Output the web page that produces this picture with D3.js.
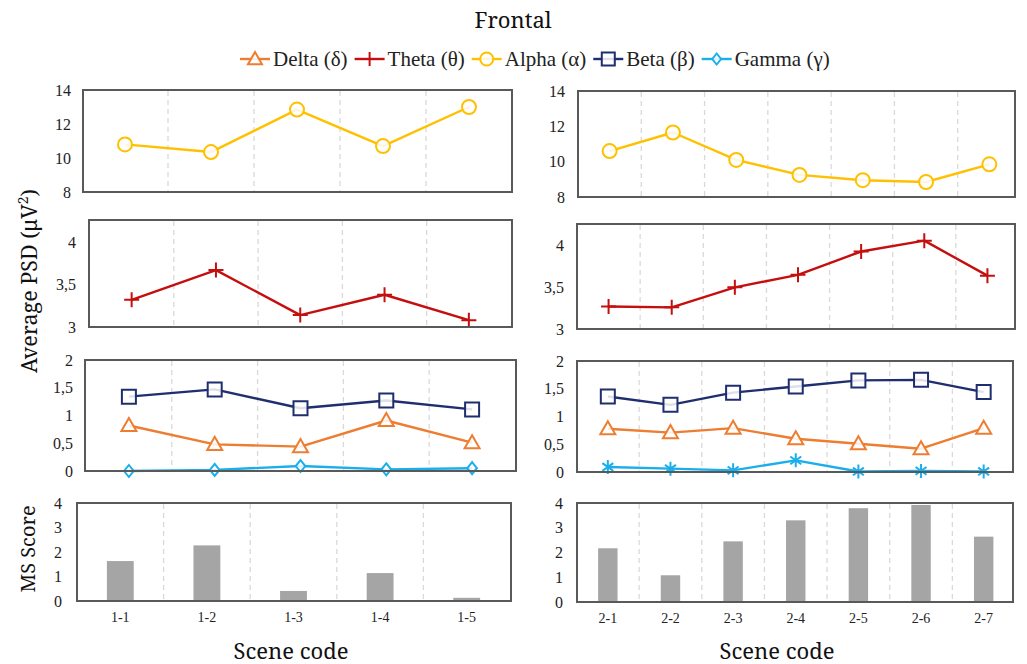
<!DOCTYPE html>
<html>
<head>
<meta charset="utf-8">
<script src="https://cdn.jsdelivr.net/npm/d3@7"></script>
<style>
  html, body { margin: 0; padding: 0; background: #ffffff; }
  svg { display: block; }
  .tms { font-family: "Liberation Serif", "Times New Roman", serif; }
  .ttl { font-family: "Noto Serif", "DejaVu Serif", serif; }
</style>
</head>
<body>
<svg id="chart" width="1027" height="664"></svg>
<script>
// Scene codes for the two sessions
const scenes1 = ["1-1", "1-2", "1-3", "1-4", "1-5"];
const scenes2 = ["2-1", "2-2", "2-3", "2-4", "2-5", "2-6", "2-7"];

// Average PSD per band (µV²), frontal region
const alpha1 = [10.8, 10.35, 12.85, 10.7, 13.0];
const alpha2 = [10.6, 11.65, 10.1, 9.25, 8.95, 8.85, 9.85];
const theta1 = [3.32, 3.67, 3.14, 3.38, 3.08];
const theta2 = [3.27, 3.26, 3.5, 3.65, 3.93, 4.06, 3.64];
const beta1  = [1.34, 1.47, 1.13, 1.27, 1.11];
const beta2  = [1.36, 1.21, 1.43, 1.54, 1.65, 1.66, 1.44];
const delta1 = [0.82, 0.48, 0.44, 0.91, 0.51];
const delta2 = [0.78, 0.71, 0.79, 0.60, 0.51, 0.42, 0.79];
const gamma1 = [0.0, 0.02, 0.09, 0.03, 0.05];
const gamma2 = [0.09, 0.06, 0.03, 0.21, 0.01, 0.02, 0.01];

// Motion sickness score per scene
const ms1 = [1.63, 2.27, 0.41, 1.14, 0.13];
const ms2 = [2.17, 1.08, 2.45, 3.30, 3.79, 3.92, 2.64];

// Axis ticks
const ticksAlpha = [8, 10, 12, 14];
const ticksTheta = [3, 3.5, 4];
const ticksLow   = [0, 0.5, 1, 1.5, 2];
const ticksMS    = [0, 1, 2, 3, 4];

const legendItems = [
  { name: "Delta (δ)", band: "delta" },
  { name: "Theta (θ)", band: "theta" },
  { name: "Alpha (α)", band: "alpha" },
  { name: "Beta (β)",  band: "beta" },
  { name: "Gamma (γ)", band: "gamma" }
];

const colors = {
  delta: "#ED7D31",
  theta: "#C50F0F",
  alpha: "#FFC000",
  beta:  "#1F2E6E",
  gamma: "#1AAEEB",
  bar:   "#A5A5A5",
  frame: "#595959",
  grid:  "#D9D9D9"
};

const svg = d3.select("#chart");

// Marker path generators centred on (0,0)
function markerPath(kind, s) {
  const h = s / 2;
  switch (kind) {
    case "triangle": return `M0,${-h}L${h},${h * 0.75}L${-h},${h * 0.75}Z`;
    case "plus":     return `M${-h},0H${h}M0,${-h}V${h}`;
    case "circle":   return d3.symbol(d3.symbolCircle, Math.PI * h * h)();
    case "square":   return `M${-h},${-h}H${h}V${h}H${-h}Z`;
    case "diamond":  return `M0,${-h}L${h * 0.8},0L0,${h}L${-h * 0.8},0Z`;
    case "asterisk": {
      const d = h * 0.78;
      return `M0,${-h}V${h}M${-d},${-h * 0.55}L${d},${h * 0.55}M${-d},${h * 0.55}L${d},${-h * 0.55}`;
    }
  }
}
const markerSize = { triangle: 15, plus: 15, circle: 14, square: 14, diamond: 12, asterisk: 14 };

const fmt = v => String(v).replace(".", ",");

function panel(cfg) {
  const g = svg.append("g");
  const x = d3.scaleBand().domain(cfg.cats).range(cfg.band).paddingInner(0).paddingOuter(0);
  const y = d3.scaleLinear().domain(cfg.domain).range([cfg.frame[3], cfg.frame[1]]);

  // dashed separators between scenes
  g.selectAll("line.sep")
    .data(cfg.cats.slice(1))
    .join("line")
    .attr("x1", d => x(d)).attr("x2", d => x(d))
    .attr("y1", cfg.frame[1] + 1).attr("y2", cfg.frame[3] - 1)
    .attr("stroke", colors.grid).attr("stroke-width", 1.3)
    .attr("stroke-dasharray", "5,4");

  // y axis labels
  const axis = d3.axisLeft(y).tickValues(cfg.ticks).tickSize(0).tickFormat(fmt);
  const ag = g.append("g")
    .attr("transform", `translate(${cfg.labelEnd},0)`)
    .call(axis)
    .attr("font-family", null).attr("font-size", null)
    .attr("class", "tms");
  ag.select(".domain").remove();
  ag.selectAll("text")
    .attr("x", 0)
    .style("font-size", "16px").attr("fill", "#222");

  if (cfg.bars) {
    const bw = x.bandwidth() * 0.31;
    g.selectAll("rect.bar")
      .data(cfg.bars)
      .join("rect")
      .attr("x", (d, i) => x(cfg.cats[i]) + x.bandwidth() / 2 - bw / 2)
      .attr("width", bw)
      .attr("y", d => y(d))
      .attr("height", d => y(0) - y(d))
      .attr("fill", colors.bar);

    g.selectAll("text.cat")
      .data(cfg.cats)
      .join("text")
      .attr("class", "tms")
      .attr("x", d => x(d) + x.bandwidth() / 2)
      .attr("y", cfg.frame[3] + 21)
      .attr("text-anchor", "middle")
      .style("font-size", "14px").attr("fill", "#222")
      .text(d => d);
  }

  (cfg.series || []).forEach(s => {
    const pts = s.values.map((v, i) => [x(cfg.cats[i]) + x.bandwidth() / 2, y(v)]);
    g.append("path")
      .attr("d", d3.line()(pts))
      .attr("fill", "none")
      .attr("stroke", colors[s.band]).attr("stroke-width", 2.4)
      .attr("stroke-linejoin", "round");
    g.selectAll(null)
      .data(pts)
      .join("path")
      .attr("transform", d => `translate(${d[0]},${d[1]})`)
      .attr("d", markerPath(s.marker, markerSize[s.marker]))
      .attr("fill", s.marker === "plus" || s.marker === "asterisk" ? "none" : "#ffffff")
      .attr("fill-opacity", s.marker === "plus" || s.marker === "asterisk" ? 0 : 0.85)
      .attr("stroke", colors[s.band]).attr("stroke-width", 2);
  });

  // plot frame
  g.append("rect")
    .attr("x", cfg.frame[0]).attr("y", cfg.frame[1])
    .attr("width", cfg.frame[2] - cfg.frame[0])
    .attr("height", cfg.frame[3] - cfg.frame[1])
    .attr("fill", "none")
    .attr("stroke", colors.frame).attr("stroke-width", 2);
}

// ---- Session 1 (left column) ----
panel({ cats: scenes1, band: [82, 512], frame: [83, 90, 512, 192], domain: [8, 14], ticks: ticksAlpha, labelEnd: 71,
  series: [{ band: "alpha", values: alpha1, marker: "circle" }] });
panel({ cats: scenes1, band: [89.5, 511], frame: [89, 220, 512, 327], domain: [3, 4.26], ticks: ticksTheta, labelEnd: 76,
  series: [{ band: "theta", values: theta1, marker: "plus" }] });
panel({ cats: scenes1, band: [86, 515], frame: [85, 360, 516, 471], domain: [0, 2], ticks: ticksLow, labelEnd: 73,
  series: [
    { band: "beta",  values: beta1,  marker: "square" },
    { band: "delta", values: delta1, marker: "triangle" },
    { band: "gamma", values: gamma1, marker: "diamond" }
  ] });
panel({ cats: scenes1, band: [77, 510], frame: [77, 503, 511, 601], domain: [0, 4], ticks: ticksMS, labelEnd: 62,
  bars: ms1 });

// ---- Session 2 (right column) ----
panel({ cats: scenes2, band: [578, 1021], frame: [578, 91, 1015, 197], domain: [8, 14], ticks: ticksAlpha, labelEnd: 565,
  series: [{ band: "alpha", values: alpha2, marker: "circle" }] });
panel({ cats: scenes2, band: [577, 1019], frame: [577, 224, 1015, 329], domain: [3, 4.26], ticks: ticksTheta, labelEnd: 564,
  series: [{ band: "theta", values: theta2, marker: "plus" }] });
panel({ cats: scenes2, band: [576.5, 1015], frame: [577, 361, 1013, 472], domain: [0, 2], ticks: ticksLow, labelEnd: 564,
  series: [
    { band: "beta",  values: beta2,  marker: "square" },
    { band: "delta", values: delta2, marker: "triangle" },
    { band: "gamma", values: gamma2, marker: "asterisk" }
  ] });
panel({ cats: scenes2, band: [576.5, 1015], frame: [577, 503, 1013, 602], domain: [0, 4], ticks: ticksMS, labelEnd: 563,
  bars: ms2 });

// ---- Title ----
svg.append("text")
  .attr("class", "ttl")
  .attr("x", 513).attr("y", 28)
  .attr("text-anchor", "middle")
  .style("font-size", "22px").attr("fill", "#111")
  .text("Frontal");

// ---- Legend ----
const lg = svg.append("g").attr("transform", "translate(0,59)");
let lx = 240;
legendItems.forEach(item => {
  const markerKind = { delta: "triangle", theta: "plus", alpha: "circle", beta: "square", gamma: "diamond" }[item.band];
  lg.append("line")
    .attr("x1", lx).attr("x2", lx + 30).attr("y1", 0).attr("y2", 0)
    .attr("stroke", colors[item.band]).attr("stroke-width", 2.4);
  lg.append("path")
    .attr("transform", `translate(${lx + 15},0)`)
    .attr("d", markerPath(markerKind, markerSize[markerKind] - 1))
    .attr("fill", markerKind === "plus" ? "none" : "#fff")
    .attr("fill-opacity", markerKind === "plus" ? 0 : 0.85)
    .attr("stroke", colors[item.band]).attr("stroke-width", 2);
  const t = lg.append("text")
    .attr("class", "tms")
    .attr("x", lx + 33).attr("y", 7)
    .style("font-size", "21px").attr("fill", "#222")
    .text(item.name);
  lx += 33 + t.node().getComputedTextLength() + 7;
});

// ---- Axis titles ----
const yTitle = svg.append("text")
  .attr("class", "ttl")
  .attr("transform", "translate(37,281) rotate(-90)")
  .attr("text-anchor", "middle")
  .style("font-size", "21.5px").attr("fill", "#111");
yTitle.append("tspan").text("Average PSD (μV");
yTitle.append("tspan").style("font-size", "14px").attr("dy", -9).text("2");
yTitle.append("tspan").attr("dy", 9).text(")");

svg.append("text")
  .attr("class", "ttl")
  .attr("transform", "translate(35,549) rotate(-90)")
  .attr("text-anchor", "middle")
  .style("font-size", "20px").attr("fill", "#111")
  .text("MS Score");

[[291, "Scene code"], [777, "Scene code"]].forEach(([cx, label]) => {
  svg.append("text")
    .attr("class", "ttl")
    .attr("x", cx).attr("y", 659)
    .attr("text-anchor", "middle")
    .style("font-size", "22px").attr("fill", "#111")
    .text(label);
});
</script>
</body>
</html>
